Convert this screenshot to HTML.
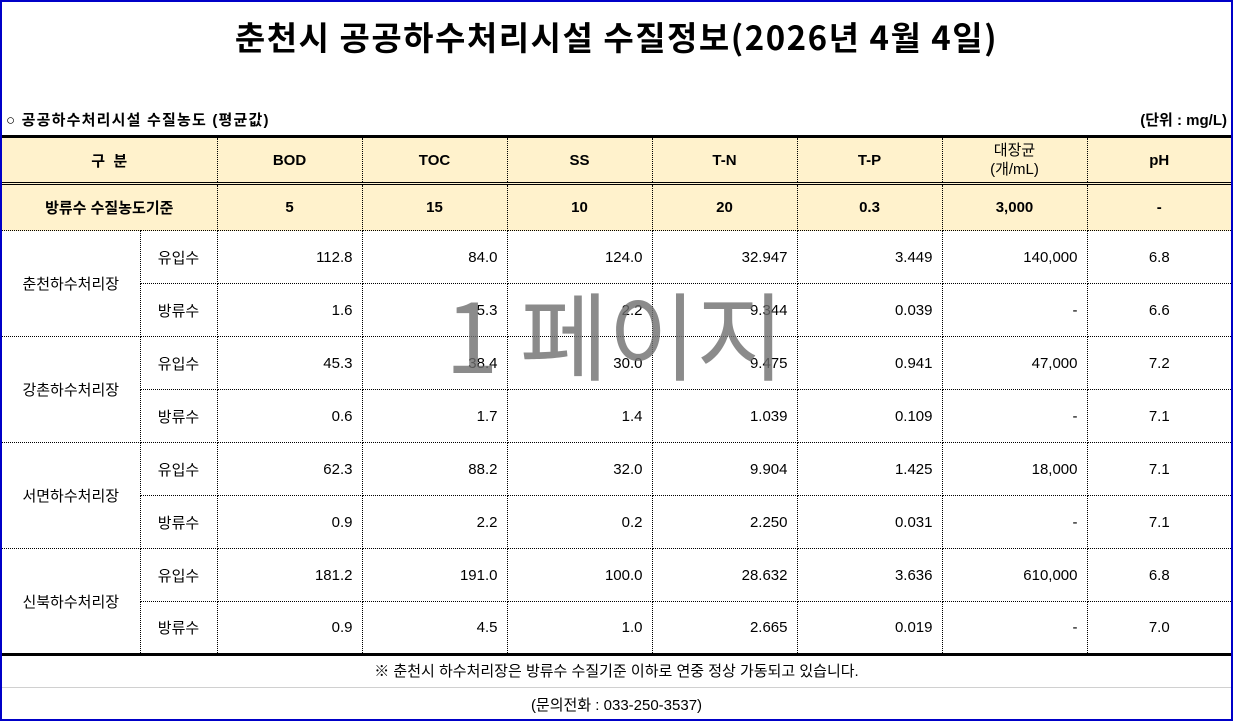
<!DOCTYPE html>
<html><head><meta charset="utf-8"><style>
body{margin:0;width:1233px;height:721px;background:#fff;overflow:hidden;position:relative;font-family:"Liberation Sans","Noto Sans CJK KR",sans-serif;color:#000}
.frame{position:absolute;left:0;top:0;width:1229px;height:717px;border:2px solid #0000c8}
.title{position:absolute;left:0;width:1233px;top:12px;text-align:center;font-size:33px;letter-spacing:1.5px;font-weight:bold;font-family:"Noto Sans CJK KR",sans-serif}
.sub{position:absolute;left:6px;top:109px;font-size:15px;letter-spacing:1.2px;font-weight:bold;font-family:"Liberation Sans","Noto Sans CJK KR",sans-serif}
.unit{position:absolute;right:6px;top:109px;font-size:15px;font-weight:bold}
table{position:absolute;left:2px;top:135px;border-collapse:collapse;table-layout:fixed;font-size:15px}
td{border:1px dotted #000;padding:0 9px;height:53px;box-sizing:border-box}
tr.h td{background:#fff2cc;font-weight:bold;text-align:center;height:47px;border-top:3px solid #000;border-bottom:3px double #000}
tr.s td{background:#fff2cc;font-weight:bold;text-align:center;height:47px}
td.n{text-align:right}
td.c{text-align:center}
td.l{border-left:none}
td.r{border-right:none}
td.b{border-bottom:3px solid #000}
.note{position:absolute;left:0;width:1233px;top:660px;text-align:center;font-size:15px}
.gl{position:absolute;left:2px;width:1229px;top:687px;border-top:1px solid #d0d0d0}
.tel{position:absolute;left:0;width:1233px;top:694px;text-align:center;font-size:15px}
.wm{position:absolute;left:445px;top:284px;font-size:96px;color:rgba(110,110,110,0.8);font-family:"Noto Sans CJK KR",sans-serif;line-height:1}
</style></head><body>
<div class="frame"></div>
<div class="title">춘천시 공공하수처리시설 수질정보(2026년 4월 4일)</div>
<div class="sub">○ 공공하수처리시설 수질농도 (평균값)</div>
<div class="unit">(단위 : mg/L)</div>
<table>
<colgroup><col style="width:138px"><col style="width:77px"><col style="width:145px"><col style="width:145px"><col style="width:145px"><col style="width:145px"><col style="width:145px"><col style="width:145px"><col style="width:144px"></colgroup>
<tr class="h"><td colspan="2" class="l">구 &nbsp;분</td><td>BOD</td><td>TOC</td><td>SS</td><td>T-N</td><td>T-P</td><td style="font-weight:normal;line-height:19px">대장균<br>(개/mL)</td><td class="r">pH</td></tr>
<tr class="s"><td colspan="2" class="l">방류수 수질농도기준</td><td>5</td><td>15</td><td>10</td><td>20</td><td>0.3</td><td>3,000</td><td class="r">-</td></tr>
<tr><td rowspan="2" class="c l">춘천하수처리장</td><td class="c">유입수</td><td class="n">112.8</td><td class="n">84.0</td><td class="n">124.0</td><td class="n">32.947</td><td class="n">3.449</td><td class="n">140,000</td><td class="c r">6.8</td></tr>
<tr><td class="c">방류수</td><td class="n">1.6</td><td class="n">5.3</td><td class="n">2.2</td><td class="n">9.344</td><td class="n">0.039</td><td class="n">-</td><td class="c r">6.6</td></tr>
<tr><td rowspan="2" class="c l">강촌하수처리장</td><td class="c">유입수</td><td class="n">45.3</td><td class="n">38.4</td><td class="n">30.0</td><td class="n">9.475</td><td class="n">0.941</td><td class="n">47,000</td><td class="c r">7.2</td></tr>
<tr><td class="c">방류수</td><td class="n">0.6</td><td class="n">1.7</td><td class="n">1.4</td><td class="n">1.039</td><td class="n">0.109</td><td class="n">-</td><td class="c r">7.1</td></tr>
<tr><td rowspan="2" class="c l">서면하수처리장</td><td class="c">유입수</td><td class="n">62.3</td><td class="n">88.2</td><td class="n">32.0</td><td class="n">9.904</td><td class="n">1.425</td><td class="n">18,000</td><td class="c r">7.1</td></tr>
<tr><td class="c">방류수</td><td class="n">0.9</td><td class="n">2.2</td><td class="n">0.2</td><td class="n">2.250</td><td class="n">0.031</td><td class="n">-</td><td class="c r">7.1</td></tr>
<tr><td rowspan="2" class="c l b">신북하수처리장</td><td class="c">유입수</td><td class="n">181.2</td><td class="n">191.0</td><td class="n">100.0</td><td class="n">28.632</td><td class="n">3.636</td><td class="n">610,000</td><td class="c r">6.8</td></tr>
<tr><td class="c b">방류수</td><td class="n b">0.9</td><td class="n b">4.5</td><td class="n b">1.0</td><td class="n b">2.665</td><td class="n b">0.019</td><td class="n b">-</td><td class="c r b">7.0</td></tr>
</table>
<div class="wm">1 페이지</div>
<div class="note">※ 춘천시 하수처리장은 방류수 수질기준 이하로 연중 정상 가동되고 있습니다.</div>
<div class="gl"></div>
<div class="tel">(문의전화 : 033-250-3537)</div>
</body></html>
